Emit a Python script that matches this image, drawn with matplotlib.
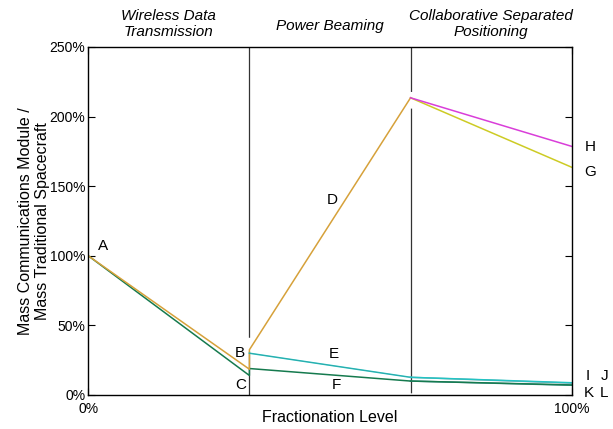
import matplotlib
matplotlib.use('Agg')
import matplotlib.pyplot as plt
from matplotlib.ticker import FuncFormatter

plt.rcParams['font.family'] = ['Liberation Sans', 'DejaVu Sans']
plt.rcParams['lines.scale_dashes'] = False

# fractionation level (0..1) and mass ratio (%) for each path
phase_edges = [1 / 3, 2 / 3]
phase_names = ['Wireless Data\nTransmission', 'Power Beaming',
               'Collaborative Separated\nPositioning']

wireless_x = [0, 1 / 3, 1 / 3, 2 / 3]
beaming_y = [100, 18.5, 32.5, 213.5]      # A -> B -> D
relay_y = [100, 14.0, 19.0, 10.0]         # A -> C -> F
e_x = [1 / 3, 2 / 3]
e_y = [30.0, 12.7]                        # B -> E

sep_x = [2 / 3, 1]
h_y = [213.5, 178.6]
g_y = [213.5, 163.6]
i_y = [12.7, 8.8]
j_y = [12.7, 8.5]
k_y = [10.0, 7.2]
l_y = [10.0, 7.0]

yticks = [0, 50, 100, 150, 200, 250]
xticks = [0, 1]

ORANGE = '#D6A13A'
GREEN = '#157A4E'
TEAL = '#3A8C8C'
CYAN = '#22C4C4'
GREYBLUE = '#8AA8B0'
MAGENTA = '#D93ED9'
YELLOW = '#CDCB24'

fig = plt.figure(figsize=(6.13, 4.29), dpi=100)
ax = fig.add_axes([0.144, 0.0793, 0.7886, 0.8112])

# phase boundaries (long dashes, drawn top to bottom)
ax.plot([phase_edges[0]] * 2, [250, 0], color='#333333', lw=0.9,
        linestyle=(0, (209, 10)))
ax.plot([phase_edges[1]] * 2, [250, 0], color='#333333', lw=0.9,
        linestyle=(173, (205, 12)))

ax.plot(wireless_x, relay_y, color=GREEN, lw=1.1)
ax.plot(wireless_x, beaming_y, color=ORANGE, lw=1.1)
ax.plot(e_x, e_y, color=CYAN, lw=1.1)
ax.plot(e_x, e_y, color=TEAL, lw=0.6, alpha=0.5)

ax.plot(sep_x, j_y, color=GREYBLUE, lw=1.1)
ax.plot(sep_x, i_y, color=CYAN, lw=1.1)
ax.plot(sep_x, l_y, color=TEAL, lw=1.1)
ax.plot(sep_x, k_y, color=GREEN, lw=1.1)
ax.plot(sep_x, g_y, color=YELLOW, lw=1.1)
ax.plot(sep_x, h_y, color=MAGENTA, lw=1.1)

# point labels
labels = [('A', 0.030, 107), ('B', 0.313, 30), ('C', 0.316, 7),
          ('D', 0.505, 140), ('E', 0.508, 29.5), ('F', 0.513, 7),
          ('H', 1.038, 178), ('G', 1.038, 160), ('I', 1.034, 13.5),
          ('J', 1.067, 13.5), ('K', 1.036, 1.5), ('L', 1.067, 1.5)]
for text, x, y in labels:
    ax.text(x, y, text, fontsize=11, ha='center', va='center',
            clip_on=False)

# phase titles above the plot
title_x = [1 / 6, 0.5, 5 / 6]
for name, x in zip(phase_names, title_x):
    y = 1.066 if '\n' in name else 1.06
    ax.text(x, y, name, transform=ax.transAxes, fontsize=11,
            style='italic', ha='center', va='center', linespacing=1.2)

ax.set_xlim(0, 1)
ax.set_ylim(0, 250)
ax.set_xticks(xticks)
ax.set_yticks(yticks)
ax.xaxis.set_major_formatter(FuncFormatter(lambda v, p: '{:.0f}%'.format(100 * v)))
ax.yaxis.set_major_formatter(FuncFormatter(lambda v, p: '{:.0f}%'.format(v)))
ax.tick_params(direction='in', length=5, width=0.8, labelsize=10,
               top=True, right=True, pad=2)
ax.tick_params(axis='x', pad=5)
for spine in ax.spines.values():
    spine.set_linewidth(1.0)

ax.set_xlabel('Fractionation Level', fontsize=11.5, labelpad=-4)
ax.set_ylabel('Mass Communications Module /\nMass Traditional Spacecraft',
              fontsize=11.5, labelpad=0, linespacing=1.15)

fig.savefig('out.png', dpi=100)
